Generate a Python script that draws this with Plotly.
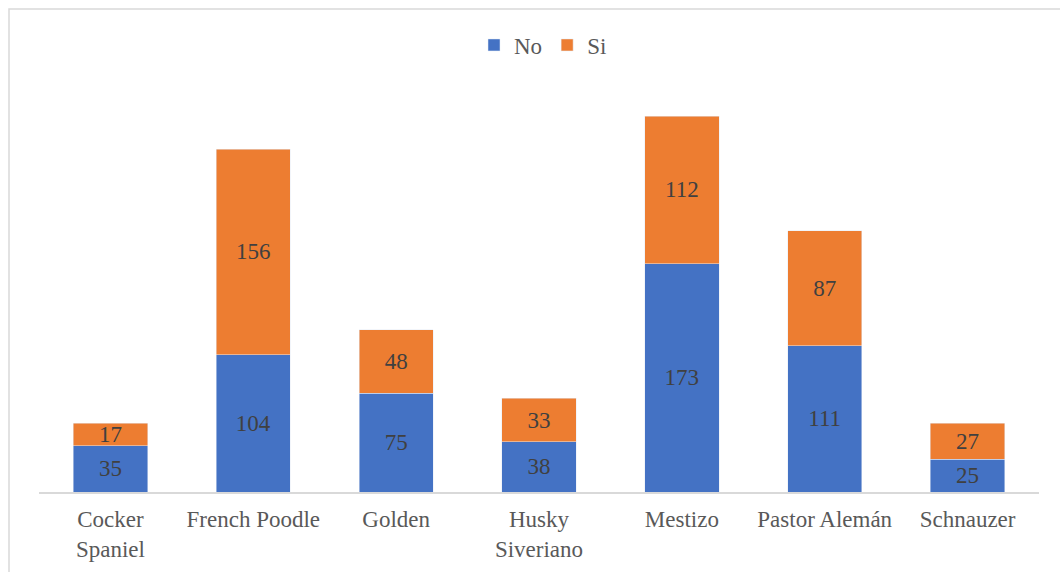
import plotly.graph_objects as go

categories = ["Cocker<br>Spaniel", "French Poodle", "Golden", "Husky<br>Siveriano",
              "Mestizo", "Pastor Alemán", "Schnauzer"]
no_values = [35, 104, 75, 38, 173, 111, 25]
si_values = [17, 156, 48, 33, 112, 87, 27]

FONT = "Liberation Serif, Times New Roman, serif"

fig = go.Figure()
fig.add_trace(go.Bar(
    name="No", x=categories, y=no_values, marker_color="#4472C4",
    text=no_values, textposition="inside", insidetextanchor="middle", textangle=0,
    textfont=dict(family=FONT, size=23, color="#404040"), constraintext="none",
))
fig.add_trace(go.Bar(
    name="Si", x=categories, y=si_values, marker_color="#ED7D31",
    text=si_values, textposition="inside", insidetextanchor="middle", textangle=0,
    textfont=dict(family=FONT, size=23, color="#404040"), constraintext="none",
))

L, R, T, B = 39, 21, 80, 80
W, H = 1060, 572
pw, ph = W - L - R, H - T - B

fig.update_layout(
    barmode="stack",
    bargap=0.48,
    width=W, height=H,
    margin=dict(l=L, r=R, t=T, b=B, autoexpand=False),
    paper_bgcolor="white", plot_bgcolor="white",
    font=dict(family=FONT, size=23, color="#595959"),
    showlegend=True,
    legend=dict(orientation="h", x=0.504, xanchor="center", y=(492 - 45) / ph, yanchor="middle",
                traceorder="normal",
                font=dict(family=FONT, size=23, color="#595959"), itemwidth=30),
    xaxis=dict(showline=True, linecolor="#d9d9d9", linewidth=1.5, showgrid=False,
               automargin=False,
               ticks="outside", ticklen=6, tickcolor="rgba(0,0,0,0)",
               tickfont=dict(family=FONT, size=23, color="#595959")),
    yaxis=dict(range=[0, 312.3], visible=False, showgrid=False, automargin=False),
    shapes=[dict(type="rect", xref="paper", yref="paper",
                 x0=(9 - L) / pw, x1=(1100 - L) / pw,
                 y0=(492 - 620) / ph, y1=1 + (T - 9) / ph,
                 line=dict(color="#d9d9d9", width=1.5), fillcolor="rgba(0,0,0,0)", layer="below")],
)

fig.write_html("out.html")
